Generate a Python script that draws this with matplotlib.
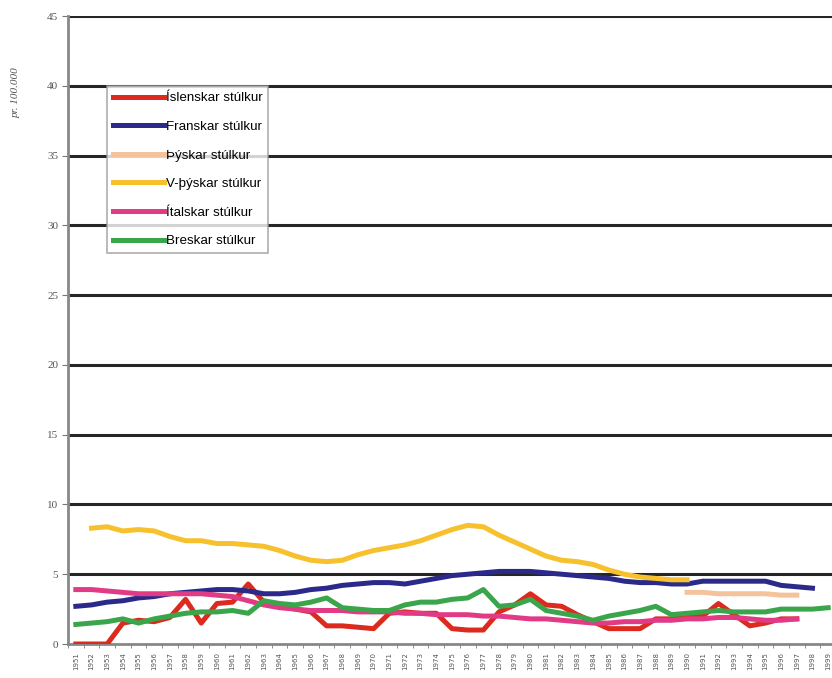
import matplotlib
matplotlib.use('Agg')
import matplotlib.pyplot as plt

years = [str(y) for y in range(1951, 2000)]

islenskar = [0.0, 0.0, 0.0, 1.5, 1.7, 1.6, 1.9, 3.2, 1.5, 2.9,
             3.0, 4.3, 3.0, 2.7, 2.5, 2.3, 1.3, 1.3, 1.2, 1.1,
             2.2, 2.3, 2.2, 2.2, 1.1, 1.0, 1.0, 2.3, 2.8, 3.6,
             2.8, 2.7, 2.1, 1.6, 1.1, 1.1, 1.1, 1.8, 1.8, 1.9,
             2.0, 2.9, 2.1, 1.3, 1.5, 1.8, 1.8]
franskar = [2.7, 2.8, 3.0, 3.1, 3.3, 3.4, 3.6, 3.7, 3.8, 3.9,
            3.9, 3.8, 3.6, 3.6, 3.7, 3.9, 4.0, 4.2, 4.3, 4.4,
            4.4, 4.3, 4.5, 4.7, 4.9, 5.0, 5.1, 5.2, 5.2, 5.2,
            5.1, 5.0, 4.9, 4.8, 4.7, 4.5, 4.4, 4.4, 4.3, 4.3,
            4.5, 4.5, 4.5, 4.5, 4.5, 4.2, 4.1, 4.0]
# Þýskar starts at index 39
thyskar = [3.7, 3.7, 3.6, 3.6, 3.6, 3.6, 3.5, 3.5]
# V-þýskar from index 1 to 39
v_thyskar = [8.3, 8.4, 8.1, 8.2, 8.1, 7.7, 7.4, 7.4, 7.2, 7.2,
             7.1, 7.0, 6.7, 6.3, 6.0, 5.9, 6.0, 6.4, 6.7, 6.9,
             7.1, 7.4, 7.8, 8.2, 8.5, 8.4, 7.8, 7.3, 6.8, 6.3,
             6.0, 5.9, 5.7, 5.3, 5.0, 4.8, 4.7, 4.6, 4.6]
italskar = [3.9, 3.9, 3.8, 3.7, 3.6, 3.6, 3.6, 3.6, 3.6, 3.5,
            3.4, 3.1, 2.8, 2.6, 2.5, 2.4, 2.4, 2.4, 2.3, 2.3,
            2.3, 2.2, 2.2, 2.1, 2.1, 2.1, 2.0, 2.0, 1.9, 1.8,
            1.8, 1.7, 1.6, 1.5, 1.5, 1.6, 1.6, 1.7, 1.7, 1.8,
            1.8, 1.9, 1.9, 1.8, 1.7, 1.7, 1.8]
breskar = [1.4, 1.5, 1.6, 1.8, 1.5, 1.8, 2.0, 2.2, 2.3, 2.3,
           2.4, 2.2, 3.1, 2.9, 2.8, 3.0, 3.3, 2.6, 2.5, 2.4,
           2.4, 2.8, 3.0, 3.0, 3.2, 3.3, 3.9, 2.7, 2.8, 3.2,
           2.4, 2.2, 2.0, 1.7, 2.0, 2.2, 2.4, 2.7, 2.1, 2.2,
           2.3, 2.4, 2.3, 2.3, 2.3, 2.5, 2.5, 2.5, 2.6]

fig = plt.figure(figsize=(8.32, 6.78), dpi=100)
ax = fig.add_axes([68 / 832, 34 / 678, 768 / 832, 628 / 678])

lw = 3.6
ax.plot(range(len(islenskar)), islenskar, color='#dc2a1e', lw=lw, label='Íslenskar stúlkur', zorder=3)
ax.plot(range(len(franskar)), franskar, color='#2b2a8a', lw=lw, label='Franskar stúlkur', zorder=3)
ax.plot(range(39, 39 + len(thyskar)), thyskar, color='#f4c39c', lw=lw, label='Þýskar stúlkur', zorder=3)
ax.plot(range(1, 1 + len(v_thyskar)), v_thyskar, color='#f6c12c', lw=lw, label='V-þýskar stúlkur', zorder=3)
ax.plot(range(len(italskar)), italskar, color='#e23b86', lw=lw, label='Ítalskar stúlkur', zorder=3)
ax.plot(range(len(breskar)), breskar, color='#3aa54a', lw=lw, label='Breskar stúlkur', zorder=3)

ax.set_xlim(-0.5, 48.5)
ax.set_ylim(0, 45)
ax.set_yticks(range(0, 50, 5))
ax.set_yticklabels([str(v) for v in range(0, 50, 5)], family='Liberation Serif',
                   fontsize=8, color='#555555')
ax.set_xticks(range(len(years)))
ax.set_xticklabels(years, rotation=90, fontsize=5, color='#555555')
ax.set_xticks([i - 0.5 for i in range(len(years) + 1)], minor=True)
ax.tick_params(axis='x', which='major', length=0, pad=6)
ax.tick_params(axis='x', which='minor', length=3, color='#777777')
ax.tick_params(axis='y', length=4, color='#777777', pad=3)

for v in range(5, 50, 5):
    ax.axhline(v, color='#262626', lw=2.2, zorder=1)

for s in ['top', 'right']:
    ax.spines[s].set_visible(False)
ax.spines['left'].set_color('#888888')
ax.spines['left'].set_linewidth(2)
ax.spines['bottom'].set_color('#888888')
ax.spines['bottom'].set_linewidth(2)

fig.text(16 / 832, 1 - 93 / 678, 'pr. 100.000', rotation=90, ha='center', va='center',
         family='Liberation Serif', style='italic', fontsize=8, color='#555555')

leg = ax.legend(loc='upper left', bbox_to_anchor=(107 / 832, 1 - 86 / 678),
                bbox_transform=fig.transFigure, borderaxespad=0, fancybox=False,
                frameon=True, prop={'family': 'Liberation Sans', 'size': 9.6},
                handlelength=3.8, handletextpad=0.15, labelspacing=1.22,
                borderpad=0.45)
leg.get_frame().set_edgecolor('#999999')
leg.get_frame().set_linewidth(1.2)
leg.set_zorder(5)

plt.savefig('out.png', dpi=100)
plt.close()
